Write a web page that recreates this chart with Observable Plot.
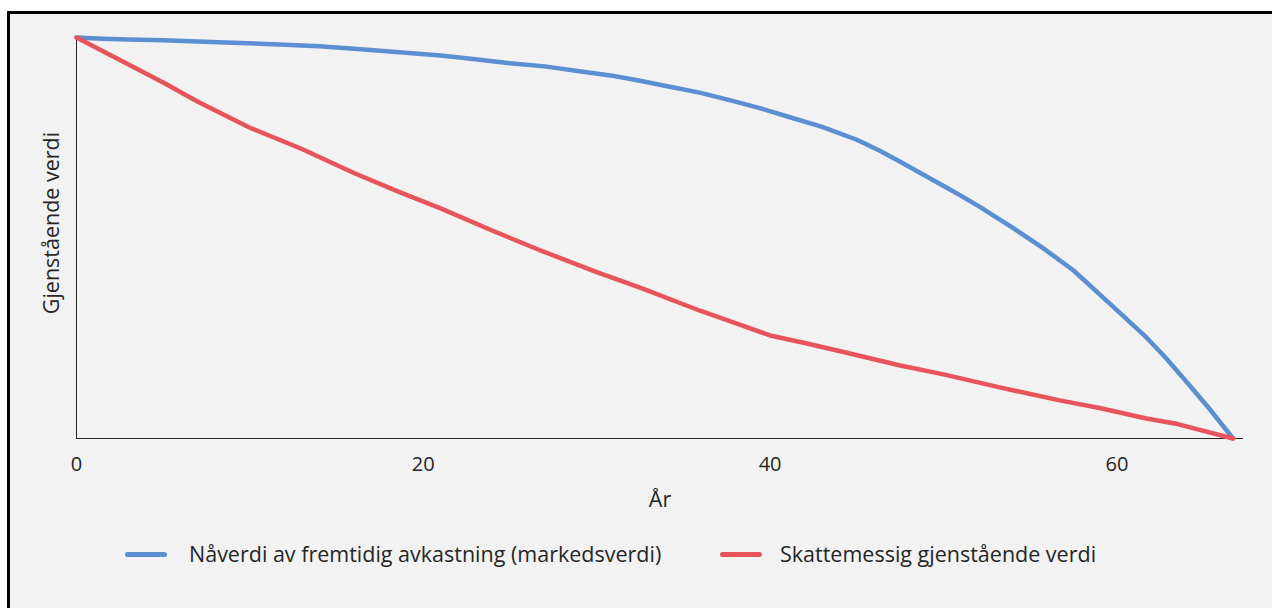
<!DOCTYPE html>
<html>
<head>
<meta charset="utf-8">
<script src="https://cdn.jsdelivr.net/npm/d3@7"></script>
<script src="https://cdn.jsdelivr.net/npm/@observablehq/plot@0.6"></script>
<style>
  html, body { margin: 0; padding: 0; background: #fff; overflow: hidden; }
  #frame {
    position: absolute; left: 7px; top: 11px;
    width: 1300px; height: 640px;
    border: 3px solid #000; background: #f2f2f2;
    font-family: "Open Sans", sans-serif; color: #262626;
  }
  #chart { position: absolute; left: 0; top: 0; }
  #legend { position: absolute; top: 525px; left: 0; width: 1262px; height: 30px; }
  .item { position: absolute; top: 0; display: flex; align-items: center; font-size: 21.5px; line-height: 30px; white-space: nowrap; }
  .sw { width: 42px; height: 5px; border-radius: 3px; }
</style>
</head>
<body>
<div id="frame">
  <div id="chart"></div>
  <div id="legend"></div>
</div>
<script>
const seriesNames = ["Nåverdi av fremtidig avkastning (markedsverdi)", "Skattemessig gjenstående verdi"];
const seriesColors = ["#5b8fd1", "#e8545c"];
const xTicks = [0, 20, 40, 60];
const xLabel = "År";
const yLabel = "Gjenstående verdi";

const blueYears  = [0, 1.5, 3, 5, 7, 9, 12, 14, 16, 19, 21, 23, 25, 27, 29, 31, 32.5, 34, 36, 38, 39.4, 41, 43, 45, 46.3, 47.5, 49, 50.5, 52, 53.8, 55.7, 57.5, 59.4, 60.5, 61.7, 62.8, 63.8, 65.3, 66.7];
const blueValues = [1.0, 0.997, 0.995, 0.993, 0.990, 0.987, 0.982, 0.978, 0.972, 0.962, 0.955, 0.946, 0.936, 0.928, 0.916, 0.904, 0.892, 0.879, 0.862, 0.840, 0.824, 0.803, 0.777, 0.745, 0.718, 0.690, 0.654, 0.618, 0.580, 0.531, 0.476, 0.419, 0.344, 0.300, 0.252, 0.202, 0.152, 0.076, 0.0];

const redYears  = [0, 2, 5, 7, 10, 13, 16, 18.7, 21, 24, 26.7, 30, 32.5, 36, 38, 40, 42, 44.6, 47.5, 50, 53.3, 56.7, 59, 61.7, 63.5, 66.7];
const redValues = [1.0, 0.955, 0.888, 0.840, 0.775, 0.722, 0.662, 0.613, 0.574, 0.518, 0.470, 0.415, 0.376, 0.318, 0.288, 0.257, 0.238, 0.212, 0.182, 0.160, 0.127, 0.095, 0.076, 0.050, 0.036, 0.0];

const data = [
  ...blueYears.map((x, i) => ({ x, y: blueValues[i], s: seriesNames[0] })),
  ...redYears.map((x, i) => ({ x, y: redValues[i], s: seriesNames[1] }))
];

const chart = Plot.plot({
  width: 1262,
  height: 500,
  marginLeft: 66,
  marginRight: 29,
  marginTop: 23,
  marginBottom: 76,
  style: { background: "transparent", fontFamily: "Open Sans, sans-serif", color: "#262626" },
  x: { domain: [0, 67.3], label: null },
  y: { domain: [0, 1], axis: null },
  color: { domain: seriesNames, range: seriesColors },
  marks: [
    Plot.axisX({ ticks: xTicks, tickSize: 0, tickPadding: 18, fontSize: 20, label: null, fill: "#262626" }),
    Plot.ruleY([0], { stroke: "#262626", strokeWidth: 1 }),
    Plot.ruleX([0], { stroke: "#262626", strokeWidth: 1 }),
    Plot.line(data, { x: "x", y: "y", z: "s", stroke: "s", strokeWidth: 4.5, curve: "linear" }),
    Plot.text([xLabel], { frameAnchor: "bottom", dy: 68, fontSize: 21.5, fill: "#262626" }),
    Plot.text([yLabel], { frameAnchor: "left", textAnchor: "middle", rotate: -90, dx: -24, dy: -15, fontSize: 21.5, fill: "#262626" })
  ]
});
document.getElementById("chart").appendChild(chart);

const legend = document.getElementById("legend");
const lefts = [115, 710];
const gaps = [22, 18];
seriesNames.forEach((name, i) => {
  const item = document.createElement("div");
  item.className = "item";
  item.style.left = lefts[i] + "px";
  const sw = document.createElement("div");
  sw.className = "sw";
  sw.style.background = seriesColors[i];
  sw.style.marginRight = gaps[i] + "px";
  const t = document.createElement("span");
  t.textContent = name;
  item.appendChild(sw);
  item.appendChild(t);
  legend.appendChild(item);
});
</script>
</body>
</html>
